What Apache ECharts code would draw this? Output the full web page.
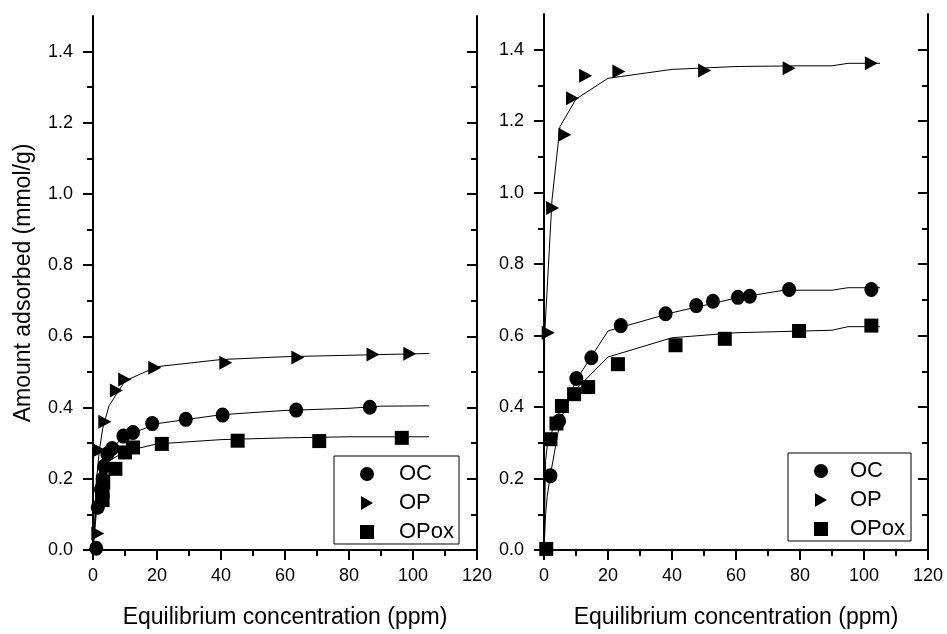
<!DOCTYPE html>
<html><head><meta charset="utf-8">
<script src="https://cdn.jsdelivr.net/npm/echarts/dist/echarts.min.js"></script>
<style>html,body{margin:0;padding:0;background:#fff}#c{width:947px;height:634px}</style>
</head><body><div id="c"></div><script>
// ---- tick values ----
const xMajorTicks = [0, 20, 40, 60, 80, 100, 120];
const yMajorTicks = [0, 0.2, 0.4, 0.6, 0.8, 1.0, 1.2, 1.4];
const yMinorTicks = [0.1, 0.3, 0.5, 0.7, 0.9, 1.1, 1.3];
const seriesNames = ['OC', 'OP', 'OPox'];
const xTitle = 'Equilibrium concentration (ppm)';
const yTitle = 'Amount adsorbed (mmol/g)';

// ---- left panel: measured points [C (ppm), q (mmol/g)] ----
const ocLeft = [[1,0.005],[1.5,0.12],[2.5,0.17],[3,0.2],[3.5,0.235],[4.5,0.27],[6,0.285],[9.5,0.32],[12.5,0.33],[18.5,0.355],[29,0.367],[40.5,0.379],[63.5,0.393],[86.5,0.401]];
const opLeft = [[1.5,0.046],[2,0.28],[3.7,0.36],[7.3,0.448],[9.9,0.479],[19.3,0.512],[41.5,0.526],[64,0.541],[87.5,0.549],[99,0.551]];
const opoxLeft = [[3,0.14],[3,0.165],[3.2,0.19],[7,0.228],[10,0.274],[12.5,0.288],[21.5,0.298],[45.2,0.307],[70.7,0.306],[96.5,0.315]];
// left panel fitted curves
const ocLeftFit = [[0,0],[1,0.12],[2,0.19],[3,0.235],[5,0.28],[10,0.32],[20,0.355],[40,0.38],[60,0.392],[80,0.398],[90,0.404],[105,0.405]];
const opLeftFit = [[0,0],[0.5,0.08],[1,0.19],[2,0.28],[3,0.34],[5,0.405],[10,0.475],[20,0.515],[40,0.535],[60,0.543],[80,0.547],[105,0.552]];
const opoxLeftFit = [[0,0],[1,0.1],[2,0.17],[3,0.21],[5,0.25],[10,0.277],[20,0.298],[40,0.31],[60,0.315],[80,0.318],[105,0.318]];

// ---- right panel: measured points ----
const ocRight = [[2,0.208],[4.7,0.361],[10.1,0.48],[14.8,0.538],[24,0.628],[38,0.661],[47.6,0.684],[52.8,0.696],[60.6,0.707],[64.3,0.71],[76.6,0.729],[102.3,0.729]];
const opRight = [[1.3,0.608],[2.7,0.957],[6.5,1.162],[8.9,1.264],[13,1.327],[23.4,1.339],[50.2,1.342],[76.6,1.348],[102.3,1.362]];
const opoxRight = [[0.7,0.003],[2,0.31],[3.9,0.354],[5.6,0.403],[9.4,0.436],[13.8,0.456],[23.1,0.52],[41.1,0.573],[56.5,0.591],[79.7,0.613],[102.3,0.628]];
// right panel fitted curves
const ocRightFit = [[0,0],[0.5,0.1],[1,0.15],[2,0.21],[5,0.36],[10,0.475],[20,0.613],[40,0.664],[60,0.705],[75,0.727],[90,0.727],[95,0.734],[105,0.734]];
const opRightFit = [[0,0],[0.2,0.6],[2.5,0.98],[5,1.185],[10,1.262],[20,1.32],[40,1.345],[60,1.353],[80,1.355],[90,1.355],[95,1.362],[105,1.362]];
const opoxRightFit = [[0,0],[0.5,0.25],[1,0.29],[2,0.32],[5,0.39],[10,0.45],[20,0.54],[40,0.594],[60,0.608],[90,0.615],[95,0.625],[105,0.625]];

const FONT = 'Liberation Sans, Arial, sans-serif';
const triPath = 'path://M0,0L12,7L0,14Z';
const sqPath = 'path://M0,0L10,0L10,10L0,10Z';
const LINE = {color: '#000', width: 2};

const grids = [
  {left: 93, top: 16, width: 384, height: 537},
  {left: 544, top: 14, width: 384, height: 537}
];

const xAxes = [], yAxes = [];
grids.forEach((g, gi) => {
  // bottom axis
  xAxes.push({
    gridIndex: gi, type: 'value', position: 'bottom', min: 0, max: 120, interval: 20,
    name: xTitle, nameLocation: 'middle', nameGap: 56,
    nameTextStyle: {fontFamily: FONT, fontSize: 23, color: '#000'},
    axisLine: {show: true, lineStyle: LINE},
    axisTick: {show: true, length: 10, lineStyle: LINE, customValues: xMajorTicks},
    minorTick: {show: true, splitNumber: 2, length: 6, lineStyle: LINE},
    axisLabel: {show: true, margin: 17, fontFamily: FONT, fontSize: 18, color: '#000', customValues: xMajorTicks},
    splitLine: {show: false}, minorSplitLine: {show: false}
  });
  // top mirror axis
  xAxes.push({
    gridIndex: gi, type: 'value', position: 'top', min: 0, max: 120, interval: 20,
    axisLine: {show: true, lineStyle: LINE},
    axisTick: {show: true, inside: true, length: 10, lineStyle: LINE},
    minorTick: {show: true, splitNumber: 2, length: 6, lineStyle: LINE},
    axisLabel: {show: false}, splitLine: {show: false}
  });
  // left major (with labels)
  yAxes.push({
    gridIndex: gi, type: 'value', position: 'left', min: 0, max: 1.5,
    name: gi === 0 ? yTitle : '', nameLocation: 'middle', nameGap: 58,
    nameTextStyle: {fontFamily: FONT, fontSize: 23, color: '#000'},
    axisLine: {show: true, lineStyle: LINE},
    axisTick: {show: true, length: 10, lineStyle: LINE, customValues: yMajorTicks},
    axisLabel: {show: true, margin: 20, fontFamily: FONT, fontSize: 18, color: '#000',
      customValues: yMajorTicks, formatter: v => v.toFixed(1)},
    splitLine: {show: false}
  });
  // left minor
  yAxes.push({
    gridIndex: gi, type: 'value', position: 'left', min: 0, max: 1.5,
    axisLine: {show: false},
    axisTick: {show: true, length: 6, lineStyle: LINE, customValues: yMinorTicks},
    axisLabel: {show: false, customValues: yMinorTicks}, splitLine: {show: false}
  });
  // right major
  yAxes.push({
    gridIndex: gi, type: 'value', position: 'right', min: 0, max: 1.5,
    axisLine: {show: true, lineStyle: LINE},
    axisTick: {show: true, inside: true, length: 10, lineStyle: LINE, customValues: yMajorTicks},
    axisLabel: {show: false, customValues: yMajorTicks}, splitLine: {show: false}
  });
  // right minor
  yAxes.push({
    gridIndex: gi, type: 'value', position: 'right', min: 0, max: 1.5,
    axisLine: {show: false},
    axisTick: {show: true, inside: true, length: 6, lineStyle: LINE, customValues: yMinorTicks},
    axisLabel: {show: false, customValues: yMinorTicks}, splitLine: {show: false}
  });
});

function fitLine(name, data, gi) {
  return {name, type: 'line', xAxisIndex: gi * 2, yAxisIndex: gi * 4, data,
    showSymbol: false, symbol: 'none', smooth: false, silent: true, z: 2,
    lineStyle: {color: '#000', width: 1}, itemStyle: {color: '#000'}};
}
function pts(name, data, gi, symbol, size) {
  return {name, type: 'scatter', xAxisIndex: gi * 2, yAxisIndex: gi * 4, data,
    symbol, symbolSize: size, z: 3, itemStyle: {color: '#000', opacity: 1}};
}

const series = [
  fitLine('fitOC_L', ocLeftFit, 0), fitLine('fitOP_L', opLeftFit, 0), fitLine('fitOPox_L', opoxLeftFit, 0),
  fitLine('fitOC_R', ocRightFit, 1), fitLine('fitOP_R', opRightFit, 1), fitLine('fitOPox_R', opoxRightFit, 1),
  pts(seriesNames[0], ocLeft, 0, 'circle', [14, 15]),
  pts(seriesNames[1], opLeft, 0, triPath, [13, 14]),
  pts(seriesNames[2], opoxLeft, 0, sqPath, [14, 14]),
  pts(seriesNames[0], ocRight, 1, 'circle', [14, 15]),
  pts(seriesNames[1], opRight, 1, triPath, [13, 14]),
  pts(seriesNames[2], opoxRight, 1, sqPath, [14, 14])
];

const legendData = [
  {name: seriesNames[0], icon: 'circle'},
  {name: seriesNames[1], icon: triPath},
  {name: seriesNames[2], icon: sqPath}
];
function legend(left, top, itemWidth, padLeft, padRight) {
  return {
    data: legendData, orient: 'vertical', left, top,
    itemWidth, itemHeight: 14, itemGap: 7,
    padding: [7, padRight, 1, padLeft],
    borderColor: '#000', borderWidth: 1, borderRadius: 0,
    selectedMode: false,
    textStyle: {fontFamily: FONT, fontSize: 22, color: '#000'}
  };
}

const chart = echarts.init(document.getElementById('c'), null, {renderer: 'canvas'});
chart.setOption({
  animation: false,
  backgroundColor: '#fff',
  grid: grids,
  xAxis: xAxes,
  yAxis: yAxes,
  legend: [legend(334, 456, 54, 26, 5), legend(788, 453, 48, 26, 6)],
  series
});
</script></body></html>
